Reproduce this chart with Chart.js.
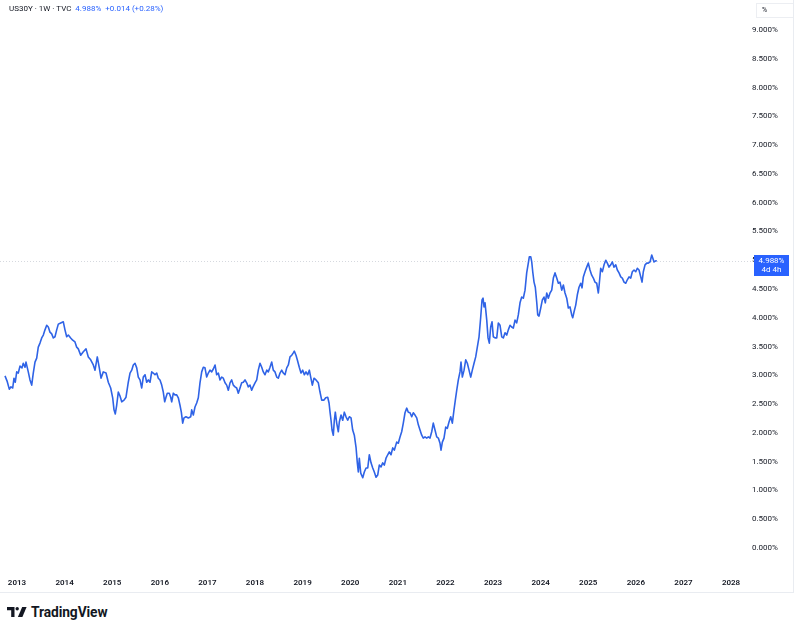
<!DOCTYPE html>
<html><head><meta charset="utf-8">
<script src="https://cdn.jsdelivr.net/npm/chart.js@4"></script>
<style>
html,body{margin:0;padding:0;background:#fff;width:800px;height:632px;overflow:hidden;font-family:Roboto,"Liberation Sans",sans-serif;}
#wrap{position:absolute;left:0;top:0;width:793px;height:592px;}
#frame{position:absolute;left:0;top:0;width:794px;height:593px;border-right:1px solid #e9ecf1;border-bottom:1px solid #e9ecf1;box-sizing:border-box;pointer-events:none}
#hdr{position:absolute;left:9px;top:4px;font-size:8px;line-height:10px;color:#131722;white-space:pre}
#hdr .b{color:#2962ff}
#pct{position:absolute;left:756px;top:3px;width:37px;height:15px;border:1px solid #eceef2;border-right:none;box-sizing:border-box;font-size:7px;color:#131722;padding-left:5px;line-height:13px;background:#fff}
#logo{position:absolute;left:7px;top:604px;height:16px;display:flex;align-items:center}
#logo span{font-size:13.8px;font-weight:700;color:#131722;margin-left:4px;letter-spacing:-0.1px}
</style></head>
<body>
<div id="wrap"><canvas id="c" width="793" height="592"></canvas></div>
<div id="frame"></div>
<div id="hdr"></div>
<div id="pct">%</div>
<div id="logo"><svg width="20" height="10" viewBox="0 0 20 10"><path d="M0 0h7.5v10H4.2V3.2H0z" fill="#131722"/><circle cx="10.2" cy="1.7" r="1.7" fill="#131722"/><path d="M15.2 0H19.6L15.4 10H10.9z" fill="#131722"/></svg><span>TradingView</span></div>
<script>
// ---- data ----
const symbolName = "US30Y";
const interval = "1W";
const exchange = "TVC";
const lastChange = 0.014;
const lastChangePct = 0.28;
const countdown = "4d 4h";

const weekDates = [
2012.748,2012.796,2012.838,2012.874,2012.910,2012.937,2012.964,2012.994,2013.027,2013.063,
2013.105,2013.132,2013.168,2013.189,2013.237,2013.273,2013.309,2013.342,2013.378,2013.414,
2013.447,2013.483,2013.519,2013.553,2013.588,2013.624,2013.658,2013.693,2013.729,2013.763,
2013.798,2013.834,2013.868,2013.918,2013.973,2014.008,2014.044,2014.078,2014.128,2014.170,
2014.218,2014.254,2014.288,2014.338,2014.393,2014.450,2014.498,2014.548,2014.603,2014.639,
2014.687,2014.729,2014.765,2014.813,2014.870,2014.918,2014.968,2015.010,2015.038,2015.065,
2015.094,2015.128,2015.164,2015.200,2015.248,2015.290,2015.338,2015.374,2015.410,2015.443,
2015.479,2015.515,2015.548,2015.584,2015.620,2015.653,2015.689,2015.725,2015.758,2015.794,
2015.830,2015.863,2015.899,2015.935,2015.968,2016.004,2016.040,2016.073,2016.103,2016.130,
2016.157,2016.199,2016.229,2016.250,2016.284,2016.319,2016.355,2016.389,2016.424,2016.452,
2016.481,2016.508,2016.550,2016.599,2016.649,2016.670,2016.704,2016.739,2016.775,2016.809,
2016.844,2016.880,2016.914,2016.949,2016.985,2017.019,2017.054,2017.090,2017.124,2017.160,
2017.195,2017.229,2017.265,2017.300,2017.334,2017.370,2017.405,2017.439,2017.475,2017.510,
2017.544,2017.580,2017.615,2017.649,2017.685,2017.720,2017.754,2017.790,2017.825,2017.859,
2017.895,2017.930,2017.964,2018.000,2018.036,2018.069,2018.105,2018.141,2018.174,2018.210,
2018.246,2018.279,2018.315,2018.351,2018.384,2018.420,2018.456,2018.489,2018.525,2018.561,
2018.594,2018.630,2018.666,2018.700,2018.735,2018.771,2018.804,2018.825,2018.861,2018.888,
2018.930,2018.966,2019.002,2019.036,2019.071,2019.107,2019.141,2019.170,2019.204,2019.239,
2019.281,2019.330,2019.365,2019.401,2019.449,2019.485,2019.527,2019.555,2019.576,2019.597,
2019.618,2019.645,2019.666,2019.687,2019.716,2019.750,2019.771,2019.807,2019.842,2019.876,
2019.912,2019.947,2019.981,2020.017,2020.052,2020.086,2020.122,2020.149,2020.170,2020.191,
2020.221,2020.263,2020.296,2020.332,2020.368,2020.401,2020.437,2020.473,2020.506,2020.542,
2020.578,2020.611,2020.647,2020.683,2020.716,2020.752,2020.788,2020.821,2020.857,2020.893,
2020.926,2020.976,2021.010,2021.046,2021.081,2021.115,2021.151,2021.187,2021.220,2021.256,
2021.292,2021.325,2021.361,2021.397,2021.431,2021.466,2021.502,2021.535,2021.571,2021.607,
2021.641,2021.676,2021.712,2021.745,2021.781,2021.817,2021.851,2021.886,2021.907,2021.935,
2021.970,2022.006,2022.040,2022.075,2022.111,2022.145,2022.180,2022.208,2022.237,2022.271,
2022.306,2022.327,2022.355,2022.391,2022.426,2022.460,2022.496,2022.531,2022.565,2022.601,
2022.636,2022.670,2022.706,2022.741,2022.769,2022.790,2022.811,2022.832,2022.868,2022.895,
2022.922,2022.951,2022.979,2023.006,2023.042,2023.078,2023.111,2023.147,2023.183,2023.216,
2023.252,2023.288,2023.321,2023.357,2023.392,2023.426,2023.462,2023.497,2023.531,2023.567,
2023.602,2023.636,2023.672,2023.707,2023.741,2023.762,2023.792,2023.813,2023.834,2023.861,
2023.888,2023.918,2023.939,2023.966,2024.002,2024.036,2024.071,2024.098,2024.128,2024.161,
2024.197,2024.233,2024.267,2024.302,2024.338,2024.372,2024.407,2024.443,2024.477,2024.512,
2024.548,2024.582,2024.617,2024.653,2024.674,2024.701,2024.737,2024.771,2024.806,2024.842,
2024.869,2024.897,2024.932,2024.968,2025.002,2025.037,2025.073,2025.107,2025.142,2025.178,
2025.212,2025.233,2025.262,2025.296,2025.332,2025.368,2025.401,2025.437,2025.473,2025.506,
2025.542,2025.578,2025.611,2025.647,2025.683,2025.716,2025.752,2025.788,2025.821,2025.857,
2025.893,2025.926,2025.962,2025.998,2026.031,2026.067,2026.103,2026.130,2026.157,2026.193,
2026.229,2026.263,2026.298,2026.334,2026.355,2026.382,2026.418,2026.439
];

const yieldValues = [
2.99,2.89,2.76,2.80,2.78,2.95,2.88,3.06,3.04,3.16,
3.13,3.21,3.14,3.23,3.06,2.92,2.83,3.04,3.23,3.30,
3.49,3.56,3.65,3.70,3.79,3.87,3.84,3.75,3.72,3.65,
3.67,3.79,3.89,3.91,3.93,3.79,3.67,3.70,3.65,3.61,
3.58,3.49,3.46,3.35,3.41,3.46,3.32,3.27,3.18,3.09,
3.32,3.13,2.95,3.06,3.04,2.88,2.78,2.61,2.40,2.33,
2.48,2.71,2.64,2.54,2.57,2.62,2.88,3.04,3.09,3.18,
3.21,3.13,2.97,2.92,2.78,2.97,3.01,2.88,2.92,2.88,
3.06,3.04,3.01,3.04,2.95,2.92,2.83,2.71,2.54,2.62,
2.69,2.69,2.62,2.54,2.69,2.66,2.66,2.61,2.48,2.36,
2.17,2.26,2.28,2.26,2.28,2.40,2.31,2.45,2.52,2.61,
2.87,3.06,3.14,3.13,2.97,3.04,3.09,3.06,3.11,3.18,
3.01,3.04,2.92,2.97,2.95,2.87,2.83,2.74,2.87,2.92,
2.83,2.80,2.78,2.69,2.78,2.87,2.88,2.92,2.87,2.80,
2.83,2.74,2.81,2.87,2.92,3.09,3.21,3.14,3.06,3.01,
3.09,3.06,3.14,3.23,3.09,3.06,2.97,2.95,3.04,3.09,
3.04,3.01,3.13,3.18,3.32,3.35,3.39,3.42,3.35,3.27,
3.14,3.04,3.09,3.01,3.06,3.01,3.09,2.97,2.83,2.95,
2.92,2.87,2.71,2.57,2.57,2.61,2.62,2.52,2.36,2.22,
2.05,1.96,2.22,2.36,2.17,2.02,2.19,2.31,2.22,2.36,
2.28,2.22,2.28,2.26,2.05,1.96,1.75,1.48,1.32,1.56,
1.30,1.22,1.32,1.39,1.39,1.62,1.48,1.39,1.32,1.23,
1.27,1.44,1.41,1.48,1.44,1.56,1.62,1.67,1.62,1.74,
1.70,1.84,1.82,1.93,2.02,2.17,2.35,2.43,2.36,2.35,
2.28,2.35,2.31,2.26,2.14,2.05,1.96,1.91,1.93,1.91,
1.93,1.91,2.02,2.17,2.05,1.93,1.91,1.82,1.70,1.84,
1.91,2.10,2.08,2.19,2.28,2.17,2.40,2.57,2.74,2.92,
3.06,3.23,2.97,3.09,3.27,3.21,3.09,2.97,3.09,3.21,
3.32,3.49,3.67,4.01,4.31,4.34,4.19,4.26,3.96,3.65,
3.56,3.84,3.93,3.67,3.65,3.65,3.91,3.87,3.67,3.65,
3.74,3.70,3.79,3.87,3.84,3.82,3.96,3.91,4.05,4.26,
4.36,4.34,4.48,4.78,4.95,5.06,5.06,4.97,4.80,4.62,
4.53,4.27,4.05,4.03,4.17,4.31,4.36,4.26,4.43,4.34,
4.43,4.48,4.69,4.78,4.69,4.60,4.62,4.48,4.57,4.43,
4.34,4.17,4.19,4.05,4.00,4.10,4.22,4.40,4.53,4.60,
4.52,4.71,4.80,4.88,4.95,4.83,4.74,4.69,4.62,4.60,
4.43,4.60,4.86,4.80,4.92,5.00,4.95,4.88,4.92,4.97,
4.88,4.92,4.83,4.78,4.71,4.69,4.62,4.60,4.66,4.71,
4.69,4.80,4.83,4.80,4.86,4.83,4.71,4.62,4.80,4.92,
4.95,4.95,4.97,5.09,5.04,4.97,4.99,4.988
];

const xTickYears = [2013,2014,2015,2016,2017,2018,2019,2020,2021,2022,2023,2024,2025,2026,2027,2028];
const yTickValues = [0,0.5,1,1.5,2,2.5,3,3.5,4,4.5,5,5.5,6,6.5,7,7.5,8,8.5,9];

// ---- build ----
const lastValue = yieldValues[yieldValues.length - 1];
document.getElementById('hdr').innerHTML =
  symbolName + ' · ' + interval + ' · ' + exchange + '  <span class="b">' + lastValue.toFixed(3) + '%  +' +
  lastChange.toFixed(3) + ' (+' + lastChangePct.toFixed(2) + '%)</span>';

const points = weekDates.map((d, i) => ({x: d, y: yieldValues[i]}));
const BLUE = '#2962ff';
const LINE = '#2f63e6';

const priceLine = {
  id: 'priceLine',
  beforeDatasetsDraw(c) {
    const {ctx, chartArea: a, scales: {y}} = c;
    const py = Math.round(y.getPixelForValue(lastValue)) + 0.5;
    ctx.save();
    ctx.strokeStyle = '#d6d9df';
    ctx.lineWidth = 1;
    ctx.setLineDash([1, 2]);
    ctx.beginPath(); ctx.moveTo(a.left, py); ctx.lineTo(a.right, py); ctx.stroke();
    ctx.restore();
  },
  afterDraw(c) {
    const {ctx, chartArea: a, scales: {y}} = c;
    const py = Math.round(y.getPixelForValue(lastValue));
    ctx.save();
    ctx.fillStyle = BLUE;
    ctx.fillRect(a.right + 2, py - 6, 35, 21);
    ctx.fillStyle = '#ffffff';
    ctx.font = '8px Roboto, "Liberation Sans", sans-serif';
    ctx.textAlign = 'center';
    ctx.textBaseline = 'middle';
    const cx = a.right + 19.5;
    ctx.fillText(lastValue.toFixed(3) + '%', cx, py);
    ctx.fillText(countdown, cx, py + 9);
    ctx.restore();
  }
};

new Chart(document.getElementById('c'), {
  type: 'line',
  data: {datasets: [{
    data: points, borderColor: LINE, borderWidth: 1.6, pointRadius: 0,
    tension: 0, fill: false, borderJoinStyle: 'round'
  }]},
  options: {
    responsive: false, animation: false,
    layout: {padding: 0},
    plugins: {legend: {display: false}, tooltip: {enabled: false}},
    scales: {
      x: {
        type: 'linear', min: 2012.643, max: 2028.44,
        grid: {display: false, drawTicks: false}, border: {display: false},
        afterBuildTicks: s => { s.ticks = xTickYears.map(v => ({value: v})); },
        afterFit: s => { s.height = 22; s.paddingLeft = 0; s.paddingRight = 0; },
        ticks: {callback: v => String(v), font: {size: 8, weight: '600', family: 'Roboto'}, color: '#131722',
                padding: 8, maxRotation: 0, autoSkip: false}
      },
      y: {
        position: 'right', min: -0.382, max: 9.521,
        grid: {display: false, drawTicks: false}, border: {display: false},
        afterBuildTicks: s => { s.ticks = yTickValues.map(v => ({value: v})); },
        afterFit: s => { s.width = 41; s.paddingTop = 0; s.paddingBottom = 0; },
        ticks: {callback: v => v.toFixed(3) + '%', font: {size: 8, family: 'Roboto'}, color: '#131722',
                crossAlign: 'center', padding: 0, autoSkip: false}
      }
    }
  },
  plugins: [priceLine]
});
</script>
</body></html>
